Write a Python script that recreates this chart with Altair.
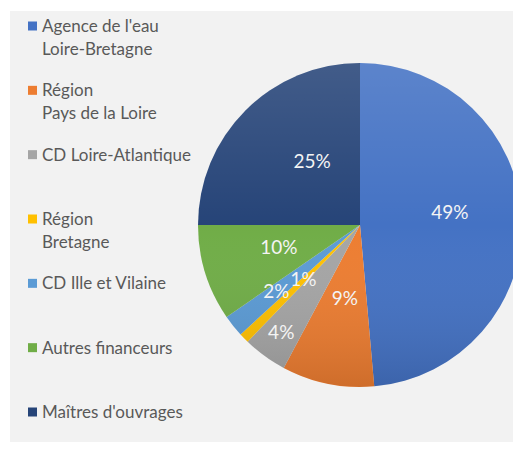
import altair as alt
import pandas as pd

categories = [
    "Agence de l'eau\nLoire-Bretagne",
    "Région\nPays de la Loire",
    "CD Loire-Atlantique",
    "Région\nBretagne",
    "CD Ille et Vilaine",
    "Autres financeurs",
    "Maîtres d'ouvrages",
]
shares = [48.6, 9.2, 4.4, 1.0, 2.2, 9.6, 25.0]
colors = ["#4472C4", "#ED7D31", "#A5A5A5", "#FFC000", "#5B9BD5", "#70AD47", "#264478"]

df = pd.DataFrame({
    "cat": categories,
    "share": shares,
    "idx": list(range(len(categories))),
    "label": [f"{round(v)}%" for v in shares],
})

CX, CY, R = 350, 214, 162
FONT = "Lato"

color = alt.Color("cat:N", scale=alt.Scale(domain=categories, range=colors), legend=None)
theta = alt.Theta("share:Q", stack=True)
order = alt.Order("idx:Q")

base = alt.Chart(df)

pie = base.mark_arc(outerRadius=R).encode(
    theta=theta, color=color, order=order,
    x=alt.value(CX), y=alt.value(CY),
)

shade = alt.Chart(alt.Data(values=[{"a": 1}])).mark_arc(
    outerRadius=R,
    fill=alt.Gradient(
        gradient="linear",
        stops=[
            alt.GradientStop(color="rgba(255,255,255,0.13)", offset=0),
            alt.GradientStop(color="rgba(255,255,255,0.0)", offset=0.5),
            alt.GradientStop(color="rgba(0,0,0,0.13)", offset=1),
        ],
        x1=0, x2=0, y1=0, y2=1,
    ),
).encode(theta=alt.value(0), theta2=alt.value(6.2832), x=alt.value(CX), y=alt.value(CY))


def pie_label(i, radius, dx=0, dy=0):
    cat = categories[i].replace("\n", "\\n").replace("'", "\\'")
    return base.transform_calculate(
        lab=f"datum.cat == '{cat}' ? datum.label : ''"
    ).mark_text(fontSize=19, font=FONT, color="#f4f4f4", radius=radius, dx=dx, dy=dy).encode(
        theta=theta, order=order, text="lab:N",
        x=alt.value(CX), y=alt.value(CY),
    )


label_layers = [
    pie_label(0, 90, 0, -8),
    pie_label(1, 76),
    pie_label(2, 134),
    pie_label(3, 79),
    pie_label(4, 107),
    pie_label(5, 85, 0, -2),
    pie_label(6, 79, 8, -7),
]

ypos = alt.Y("cat:N", scale=alt.Scale(type="point", domain=categories, range=[15, 401], padding=0), axis=None)

leg_sq = base.mark_point(shape="square", filled=True, size=81, opacity=1).encode(
    x=alt.value(22.5), y=ypos, color=color,
)
leg_tx = base.mark_text(
    align="left", baseline="top", lineBreak="\n", fontSize=17, font=FONT,
    color="#595959", lineHeight=23, dy=-7,
).encode(x=alt.value(32), y=ypos, text="cat:N")

chart = alt.layer(pie, shade, *label_layers, leg_sq, leg_tx).properties(
    width=503, height=431,
    padding={"left": 2, "top": 3, "right": 0, "bottom": 0},
    autosize="none",
    background="white",
).configure_view(fill="#f2f2f2", stroke=None)

chart.save("out.html", embed_options={"renderer": "svg", "actions": False})
